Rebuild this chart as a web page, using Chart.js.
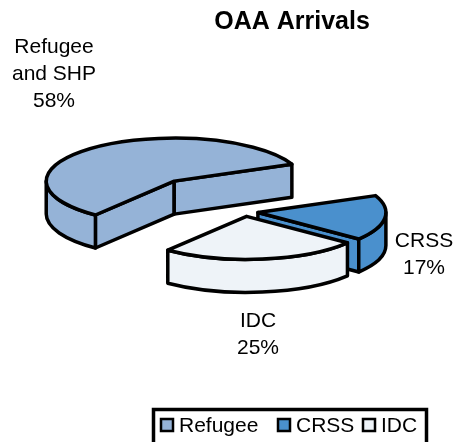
<!DOCTYPE html>
<html>
<head>
<meta charset="utf-8">
<script src="https://cdn.jsdelivr.net/npm/chart.js@4.4.1/dist/chart.umd.min.js"></script>
<style>
  html, body { margin: 0; padding: 0; background: #fff; }
  canvas { display: block; }
</style>
</head>
<body>
<canvas id="oaaChart" width="456" height="442"></canvas>
<script>
// OAA arrivals by program
const categories = ["Refugee", "CRSS", "IDC"];
const sliceNames = [["Refugee", "and SHP"], ["CRSS"], ["IDC"]];
const shares = [58, 17, 25];
const sliceColors = ["#95B3D7", "#4A90CD", "#EEF3F8"];

// look of the 3d pie
const TILT = 0.336;      // vertical squash of the disc
const DEPTH = 33;        // thickness of the slices
const EXPLODE = [116, 13, 13];
const FONT = '"Liberation Sans", Arial, sans-serif';
const labelAnchor = [[54, 53], [424, 247], [258, 327]];  // center x, first baseline
const LINE_H = 27;

// projected point on the rim of a slice
function rim(g, t, d) {
    return [g.cx + g.r * Math.cos(t), g.cy + g.r * TILT * Math.sin(t) + d];
}

function sliceGeom(arc, i) {
    const p = arc.getProps(["x", "y", "startAngle", "endAngle", "outerRadius"], true);
    const mid = (p.startAngle + p.endAngle) / 2;
    const off = arc.options.offset || 0;
    return {
        cx: p.x + off * Math.cos(mid),
        cy: p.y + off * Math.sin(mid) * TILT,
        r: p.outerRadius,
        a1: p.startAngle,
        a2: p.endAngle,
        color: arc.options.backgroundColor
    };
}

function drawSlice(c, g) {
    c.fillStyle = g.color;
    c.strokeStyle = "#000";
    c.lineWidth = 3.5;
    c.lineJoin = "round";

    // flat side faces, only those turned to the viewer
    [[g.a1, g.a1 - Math.PI / 2], [g.a2, g.a2 + Math.PI / 2]].forEach(([t, n]) => {
        if (Math.sin(n) <= 0) return;
        const p = rim(g, t, 0), q = rim(g, t, DEPTH);
        c.beginPath();
        c.moveTo(g.cx, g.cy);
        c.lineTo(p[0], p[1]);
        c.lineTo(q[0], q[1]);
        c.lineTo(g.cx, g.cy + DEPTH);
        c.closePath();
        c.fill();
        c.stroke();
    });

    // curved outer wall where it faces front
    for (let k = -1; k <= 2; k++) {
        const lo = Math.max(g.a1, 2 * Math.PI * k);
        const hi = Math.min(g.a2, 2 * Math.PI * k + Math.PI);
        if (hi <= lo) continue;
        const p = rim(g, lo, 0), q = rim(g, hi, DEPTH);
        c.beginPath();
        c.moveTo(p[0], p[1]);
        c.ellipse(g.cx, g.cy, g.r, g.r * TILT, 0, lo, hi);
        c.lineTo(q[0], q[1]);
        c.ellipse(g.cx, g.cy + DEPTH, g.r, g.r * TILT, 0, hi, lo, true);
        c.closePath();
        c.fill();
        c.stroke();
    }

    // top face
    c.beginPath();
    c.moveTo(g.cx, g.cy);
    c.ellipse(g.cx, g.cy, g.r, g.r * TILT, 0, g.a1, g.a2);
    c.closePath();
    c.fill();
    c.stroke();
}

const pie3d = {
    id: "pie3d",
    beforeDatasetsDraw(chart) {
        const c = chart.ctx;
        const geoms = chart.getDatasetMeta(0).data.map(sliceGeom);
        c.save();
        // back slices first
        geoms.slice().sort((a, b) => a.cy - b.cy).forEach(g => drawSlice(c, g));
        c.restore();
        return false;
    },
    afterDraw(chart) {
        const c = chart.ctx;
        const total = shares.reduce((s, v) => s + v, 0);
        c.save();
        c.fillStyle = "#000";
        c.textAlign = "center";
        c.textBaseline = "alphabetic";

        // title
        c.font = "bold 25px " + FONT;
        c.fillText("OAA Arrivals", 292, 29);

        // slice labels
        c.font = "21px " + FONT;
        shares.forEach((v, i) => {
            const lines = sliceNames[i].concat([Math.round(v / total * 100) + "%"]);
            const [x, y] = labelAnchor[i];
            lines.forEach((s, j) => c.fillText(s, x, y + j * LINE_H));
        });

        // legend box
        c.lineWidth = 3.5;
        c.strokeStyle = "#000";
        c.strokeRect(153.5, 409.5, 273, 44);
        c.textAlign = "left";
        c.font = "21px " + FONT;
        const itemX = [161, 278, 363];
        categories.forEach((name, i) => {
            c.fillStyle = sliceColors[i];
            c.lineWidth = 2.5;
            c.fillRect(itemX[i], 419, 12, 12);
            c.strokeRect(itemX[i], 419, 12, 12);
            c.fillStyle = "#000";
            c.fillText(name, itemX[i] + 18, 432);
        });
        c.restore();
    }
};

const ctx = document.getElementById("oaaChart").getContext("2d");
new Chart(ctx, {
    type: "pie",
    data: {
        labels: categories,
        datasets: [{
            data: shares,
            backgroundColor: sliceColors,
            borderColor: "#000",
            borderWidth: 3,
            offset: EXPLODE
        }]
    },
    options: {
        responsive: false,
        animation: false,
        devicePixelRatio: 1,
        events: [],
        rotation: 218,
        radius: 128,
        layout: { padding: { left: 34, right: 0, top: 0, bottom: 18 } },
        plugins: {
            legend: { display: false },
            title: { display: false },
            tooltip: { enabled: false }
        }
    },
    plugins: [pie3d]
});
</script>
</body>
</html>
